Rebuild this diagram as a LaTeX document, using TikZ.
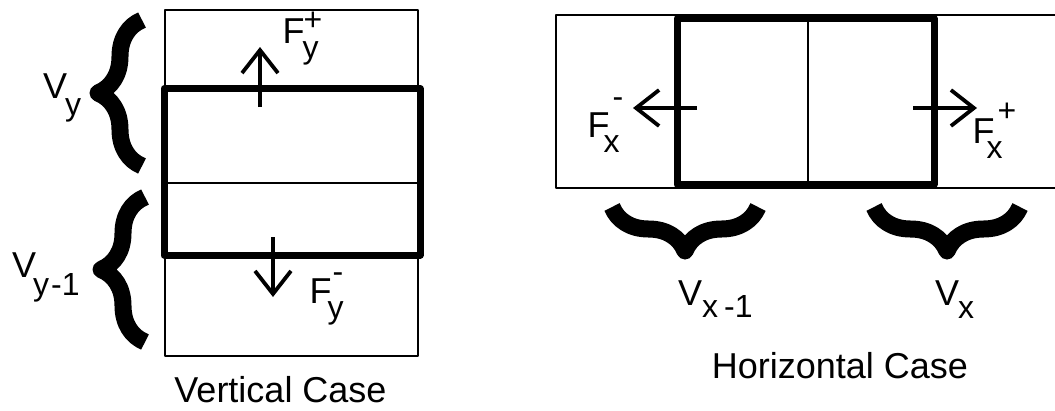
\documentclass[tikz,border=0pt]{standalone}
\usepackage{fontspec}
\setmainfont{Liberation Sans}
\usetikzlibrary{arrows.meta,decorations.pathreplacing}

\newcommand{\subsz}{\fontsize{32pt}{32pt}\selectfont}
% V with a lowered index
\newcommand{\vlab}[3]{V\kern#2\raisebox{#3}{\subsz #1}}
% F with index (below) and sign (above)
\newcommand{\flab}[5]{F\rlap{\kern#3\raisebox{-15pt}{\subsz #1}}\kern#4\raisebox{#5}{\subsz #2}}

\begin{document}
\begin{tikzpicture}[x=1pt,y=-1pt,>={Straight Barb[length=23pt,width=36pt]},line join=round,
  thincell/.style={line width=1.5pt},
  thickcell/.style={line width=7pt},
  force/.style={line width=3.8pt,->},
  bigbrace/.style={decorate,decoration={brace,amplitude=44pt},line width=17pt},
  lab/.style={anchor=base west,inner sep=0pt,font=\fontsize{36pt}{36pt}\selectfont},
  caption/.style={anchor=base,inner sep=0pt,font=\fontsize{36pt}{36pt}\selectfont}]
  \useasboundingbox (0,0) rectangle (1055,410);

  % vertical case
  \coordinate (VA) at (165,10);
  \coordinate (VB) at (418,356);
  \coordinate (VL) at (165,183);
  \coordinate (VR) at (418,183);
  \coordinate (VT) at (164,88.5);
  \coordinate (VS) at (420,255);

  \draw[thincell] (VA) rectangle (VB);
  \draw[thincell] (VL) -- (VR);
  \draw[thickcell] (VT) rectangle (VS);

  \coordinate (up0) at (260,107);
  \coordinate (up1) at (260,47);
  \coordinate (dn0) at (273,237);
  \coordinate (dn1) at (273,297);
  \draw[force] (up0) -- (up1);
  \draw[force] (dn0) -- (dn1);

  \draw[bigbrace] (142,166) -- (142,20);
  \draw[bigbrace] (145,342) -- (145,197);

  \node[lab] (vy) at (43,98) {\vlab{y}{-2pt}{-17pt}};
  \node[lab] (vym) at (12,277) {\vlab{y\kern2pt-1}{-3pt}{-18pt}};
  \node[lab] (fyp) at (282.5,43) {\flab{y}{+}{-2pt}{-1pt}{13pt}};
  \node[lab] (fym) at (309.5,303) {\flab{y}{-}{-4pt}{1pt}{21pt}};
  \node[caption] (vcase) at (280.5,402) {Vertical Case};

  % horizontal case
  \coordinate (HA) at (556,15);
  \coordinate (HB) at (556,188);
  \coordinate (HE) at (1060,15);
  \coordinate (HF) at (1060,188);
  \coordinate (HM) at (808,15);
  \coordinate (HN) at (808,188);
  \coordinate (HT) at (677,18.5);
  \coordinate (HS) at (934,184.5);

  \draw[thincell] (HE) -- (HA) -- (HB) -- (HF);
  \draw[thincell] (HM) -- (HN);
  \draw[thickcell] (HT) rectangle (HS);

  \coordinate (lf0) at (697,108);
  \coordinate (lf1) at (633,108);
  \coordinate (rt0) at (913,108);
  \coordinate (rt1) at (977,108);
  \draw[force] (lf0) -- (lf1);
  \draw[force] (rt0) -- (rt1);

  \draw[bigbrace] (758,207) -- (612,207);
  \draw[bigbrace] (1020,207) -- (874,207);

  \node[lab] (fxm) at (587.5,137) {\flab{x}{-}{-6pt}{3pt}{30pt}};
  \node[lab] (fxp) at (972.5,143) {\flab{x}{+}{-8pt}{3pt}{22pt}};
  \node[lab] (vxm) at (678,305) {\vlab{x\kern6pt-1}{0pt}{-12pt}};
  \node[lab] (vx) at (935,305) {\vlab{x}{-1pt}{-13pt}};
  \node[caption] (hcase) at (840,378) {Horizontal Case};
\end{tikzpicture}
\end{document}
